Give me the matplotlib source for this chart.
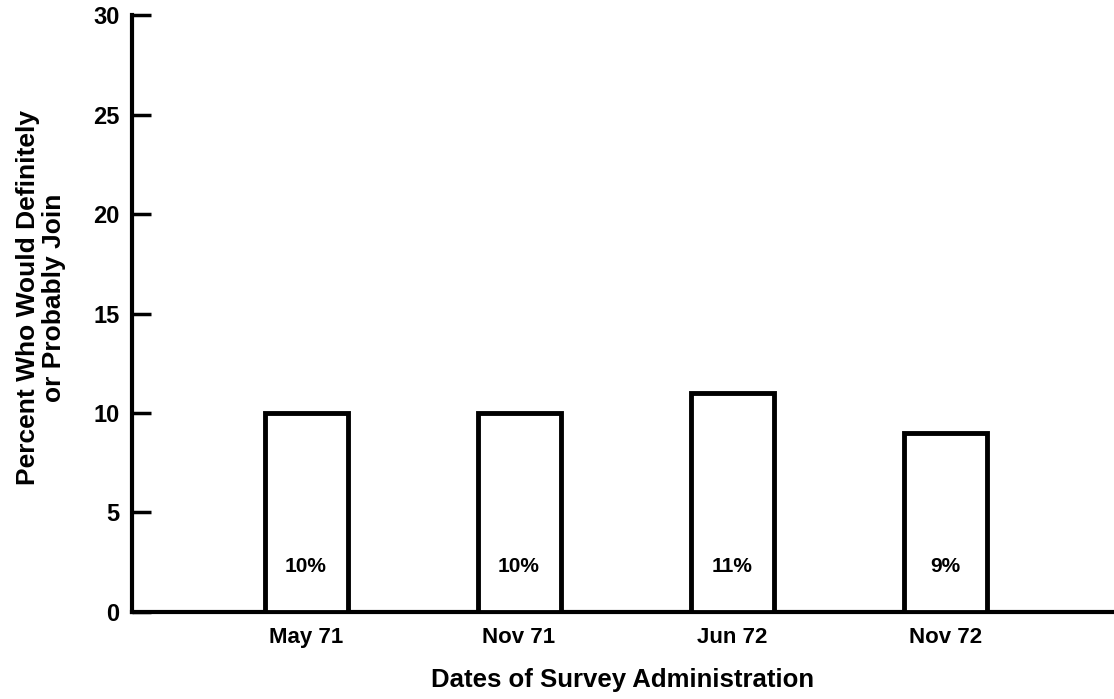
import matplotlib
matplotlib.use("Agg")
import matplotlib.pyplot as plt

plt.rcParams["font.family"] = ["Liberation Sans", "DejaVu Sans"]

DATES = ["May 71", "Nov 71", "Jun 72", "Nov 72"]
PERCENT = [10, 10, 11, 9]
BAR_LABELS = ["10%", "10%", "11%", "9%"]
Y_TICKS = [0, 5, 10, 15, 20, 25, 30]


def main():
    fig = plt.figure(figsize=(11.14, 6.99), dpi=100)
    ax = fig.add_axes([0.1185, 0.1245, 0.8815, 0.854])

    x = range(len(DATES))
    ax.bar(x, PERCENT, width=0.39, color="white", edgecolor="black",
           linewidth=3.5, zorder=3)

    # value labels sit low inside each bar
    for xi, lab in zip(x, BAR_LABELS):
        ax.text(xi, 2.3, lab, ha="center", va="center", fontsize=15,
                fontweight="bold", zorder=4)

    ax.set_xlim(-0.817, 3.793)
    ax.set_ylim(0, 30)
    ax.set_xticks(list(x))
    ax.set_xticklabels(DATES, fontsize=16, fontweight="bold")
    ax.set_yticks(Y_TICKS)
    ax.set_yticklabels([str(t) for t in Y_TICKS], fontsize=17,
                       fontweight="bold")
    ax.tick_params(axis="y", direction="in", length=14, width=2.5, pad=9)
    ax.tick_params(axis="x", length=0, pad=11)

    for side in ("top", "right"):
        ax.spines[side].set_visible(False)
    for side in ("left", "bottom"):
        ax.spines[side].set_linewidth(3)

    ax.set_xlabel("Dates of Survey Administration", fontsize=18.5,
                  fontweight="bold", labelpad=14)
    ax.set_ylabel("Percent Who Would Definitely\nor Probably Join",
                  fontsize=19, fontweight="bold", linespacing=1.1)
    ax.yaxis.set_label_coords(-0.067, 0.526)

    fig.savefig("out.png", dpi=100)


if __name__ == "__main__":
    main()
